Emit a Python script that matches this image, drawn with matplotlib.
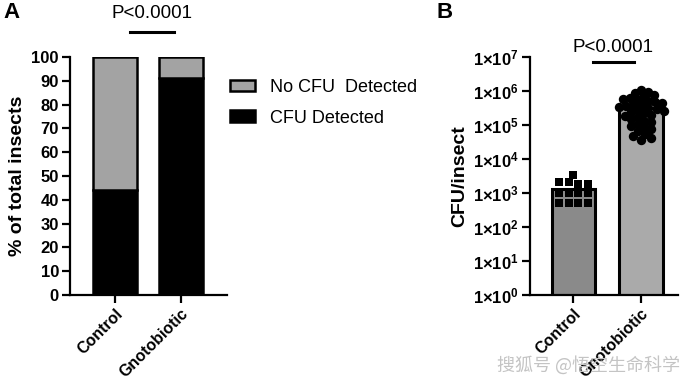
import numpy as np
import matplotlib
matplotlib.use("Agg")
import matplotlib.pyplot as plt
from matplotlib.patches import Patch
from matplotlib.lines import Line2D

plt.rcParams["font.family"] = ["Liberation Sans", "DejaVu Sans"]
plt.rcParams["mathtext.fontset"] = "custom"
plt.rcParams["mathtext.rm"] = "Liberation Sans"
plt.rcParams["mathtext.bf"] = "Liberation Sans:bold"

# ── data ─────────────────────────────────────────────────────────────────────
groups = ["Control", "Gnotobiotic"]
pct_detected = [44, 91]
pct_not_detected = [56, 9]

cfu_bar = [1300, 3.2e5]
cfu_control = [3400, 2100, 2100, 1850, 1850, 1000, 1000, 1000, 1000,
               520, 520, 520, 520]
cfu_gnoto = [1.05e6, 9.5e5, 8.5e5, 7.6e5, 6.8e5, 6.4e5, 6.0e5, 5.5e5, 5.0e5,
             4.6e5, 4.3e5, 4.0e5, 3.8e5, 3.6e5, 3.4e5, 3.2e5, 3.0e5, 2.8e5,
             2.6e5, 2.4e5, 2.2e5, 2.0e5, 1.9e5, 1.7e5, 1.5e5, 1.35e5, 1.2e5,
             1.05e5, 9.5e4, 8.5e4, 7.5e4, 6.5e4, 5.5e4, 4.8e4, 4.2e4, 3.7e4]

W, H = 690, 390
fig = plt.figure(figsize=(W / 100, H / 100), dpi=100)


def fx(px):
    return px / W


def fy(py):
    return 1 - py / H


def style_axis(ax):
    for s in ("top", "right"):
        ax.spines[s].set_visible(False)
    for s in ("left", "bottom"):
        ax.spines[s].set_linewidth(1.6)
    ax.tick_params(width=1.6, length=6, labelsize=11.5, pad=2)
    for lab in ax.get_yticklabels():
        lab.set_fontweight("bold")


def row_offsets(vals, pix_per_decade, d):
    """GraphPad-like scatter: bin points into rows of height d, centre each row."""
    ypix = np.log10(vals) * pix_per_decade
    bins = np.floor(ypix / d).astype(int)
    off = np.zeros(len(vals))
    for b in np.unique(bins):
        idx = np.where(bins == b)[0]
        n = len(idx)
        off[idx] = (np.arange(n) - (n - 1) / 2) * d
    return off


def swarm_offsets(vals, pix_per_decade, dmin, step=1.0):
    """Simple beeswarm in pixel space; points may overlap slightly."""
    ypix = np.log10(vals) * pix_per_decade
    placed = []
    off = np.zeros(len(vals))
    for i, yi in enumerate(ypix):
        k = 0
        while True:
            for xo in ((k * step,) if k == 0 else (k * step, -k * step)):
                if all(np.hypot(xo - xp, yi - yp) >= dmin for xp, yp in placed):
                    break
            else:
                k += 1
                continue
            break
        placed.append((xo, yi))
        off[i] = xo
    return off


# ── Panel A ──────────────────────────────────────────────────────────────────
axA = fig.add_axes([fx(70), fy(295), fx(227) - fx(70), fy(57) - fy(295)])
x = np.arange(len(groups))
bw = 0.66
axA.bar(x, pct_detected, bw, color="black", edgecolor="black", lw=1.8, zorder=3)
axA.bar(x, pct_not_detected, bw, bottom=pct_detected, color="#a3a3a3",
        edgecolor="black", lw=1.8, zorder=3)
axA.set_ylim(0, 100)
axA.set_xlim(-0.68, 1.70)
axA.set_yticks(np.arange(0, 101, 10))
axA.set_xticks(x)
axA.set_xticklabels(groups, rotation=45, ha="right", rotation_mode="anchor",
                    fontsize=12, fontweight="bold")
style_axis(axA)
axA.tick_params(axis="y", labelsize=12)
axA.set_ylabel("% of total insects", fontsize=14, fontweight="bold", labelpad=4)

axA.legend(handles=[Patch(facecolor="#a3a3a3", edgecolor="black", lw=1.8,
                          label="No CFU  Detected"),
                    Patch(facecolor="black", edgecolor="black", lw=1.8,
                          label="CFU Detected")],
           loc="upper left", bbox_to_anchor=(fx(230), fy(79)),
           bbox_transform=fig.transFigure, frameon=False, fontsize=13,
           handlelength=1.4, handleheight=0.6, handletextpad=0.8,
           labelspacing=0.75, borderpad=0, borderaxespad=0)

# ── Panel B ──────────────────────────────────────────────────────────────────
axB = fig.add_axes([fx(530), fy(295), fx(678) - fx(530), fy(57) - fy(295)])
axB.bar(x, cfu_bar, 0.65, color=["#8a8a8a", "#aaaaaa"], edgecolor="black",
        lw=2.2, zorder=2)
axB.set_yscale("log")
axB.set_ylim(1, 1e7)
axB.set_xlim(-0.644, 1.55)
axB.set_yticks([10.0 ** k for k in range(8)])
axB.set_yticklabels([rf"$\mathbf{{1{{\times}}10^{{{k}}}}}$" for k in range(8)])
axB.minorticks_off()
axB.set_xticks(x)
axB.set_xticklabels(groups, rotation=45, ha="right", rotation_mode="anchor",
                    fontsize=12, fontweight="bold")
style_axis(axB)
axB.tick_params(axis="y", labelsize=12)
axB.set_ylabel("CFU/insect", fontsize=14, fontweight="bold", labelpad=3)

ppd = 238 / 7          # pixels per decade
px_per_unit = 67.5     # pixels per x data unit
off_c = row_offsets(np.array(cfu_control), ppd, 9.8) / px_per_unit
off_g = swarm_offsets(np.array(cfu_gnoto), ppd, 6.5) / px_per_unit
axB.scatter(x[0] + off_c, cfu_control, marker="s", s=36, color="black",
            zorder=4, clip_on=False, linewidths=0)
axB.scatter(x[1] + off_g, cfu_gnoto, marker="o", s=46, color="black",
            zorder=4, clip_on=False, linewidths=0)

# ── significance annotations ─────────────────────────────────────────────────
for (x0, x1, ly, tx, ty) in [(130, 174, 32, 152, 14), (593, 634, 62, 613, 47)]:
    fig.add_artist(Line2D([fx(x0), fx(x1)], [fy(ly), fy(ly)], color="black",
                          lw=2.2, transform=fig.transFigure))
    fig.text(fx(tx), fy(ty), "P<0.0001", ha="center", va="center",
             fontsize=13.5)

fig.text(fx(3), fy(13), "A", ha="left", va="center", fontsize=16,
         fontweight="bold")
fig.text(fx(436), fy(13), "B", ha="left", va="center", fontsize=16,
         fontweight="bold")

# watermark
fig.text(fx(497), fy(365), "搜狐号 @悟空生命科学", ha="left", va="center",
         fontsize=13, color="#c4c4c4", family=["Noto Sans CJK SC", "DejaVu Sans"],
         zorder=10)

fig.savefig("out.png", dpi=100)
